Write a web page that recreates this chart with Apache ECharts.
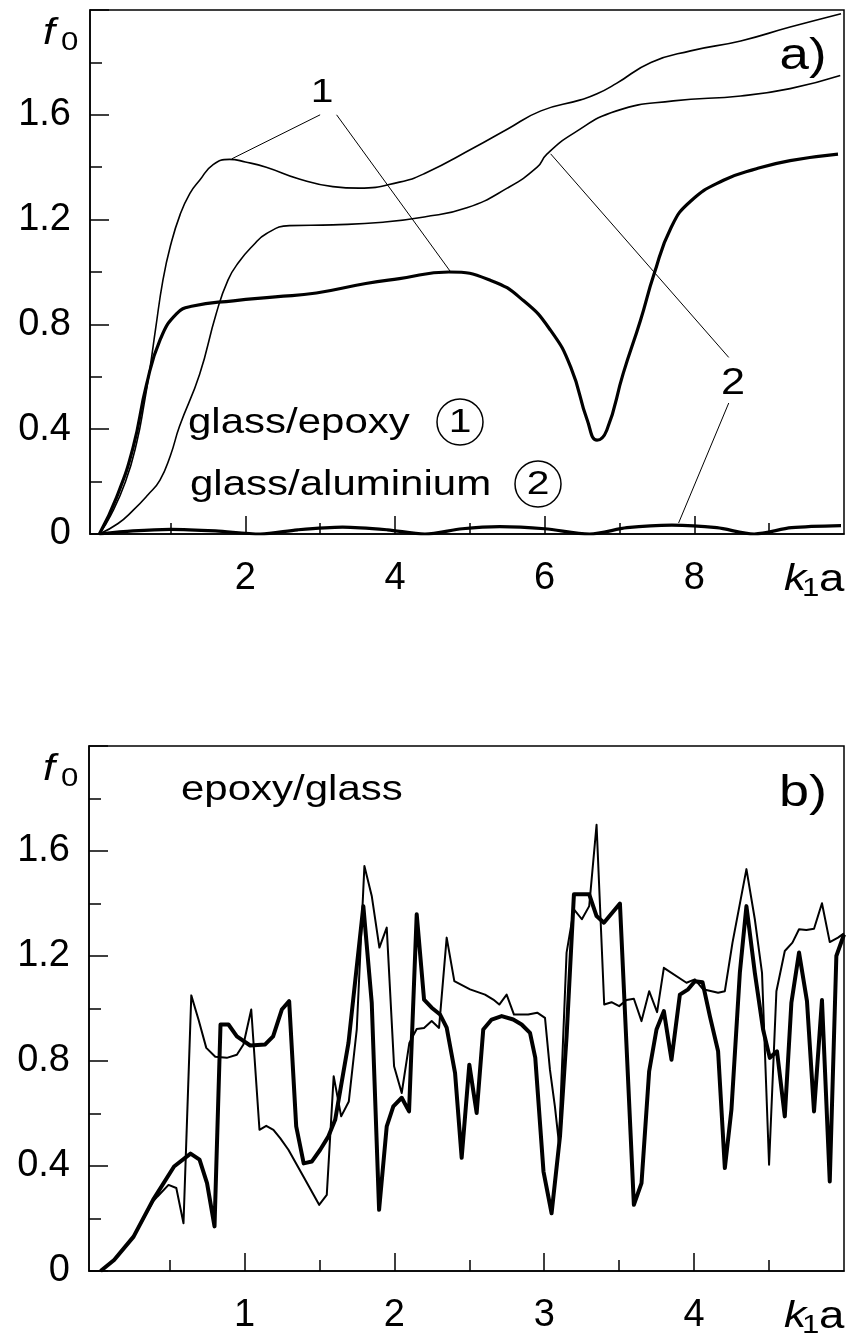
<!DOCTYPE html>
<html>
<head>
<meta charset="utf-8">
<script src="https://cdn.jsdelivr.net/npm/echarts@6/dist/echarts.min.js"></script>
<style>
html, body { margin: 0; padding: 0; background: #fff; }
#main { width: 850px; height: 1340px; }
</style>
</head>
<body>
<div id="main"></div>
<script>
// panel a) : glass/epoxy (1) and glass/aluminium (2)
var epoxyThin = [[0.05,0],[0.2,0.07],[0.4,0.2],[0.55,0.35],[0.65,0.5],[0.73,0.64],[0.8,0.78],[0.9,0.97],[1.0,1.1],[1.13,1.22],[1.26,1.3],[1.39,1.35],[1.57,1.41],[1.79,1.43],[2.0,1.42],[2.28,1.4],[2.72,1.355],[3.17,1.326],[3.52,1.32],[4.06,1.343],[4.39,1.375],[5.06,1.475],[5.5,1.545],[5.95,1.615],[6.48,1.657],[6.7,1.68],[6.96,1.72],[7.42,1.8],[7.95,1.844],[8.62,1.882],[9.28,1.935],[9.96,1.986]];
var epoxyThick = [[0.05,0],[0.28,0.14],[0.5,0.33],[0.68,0.57],[0.86,0.74],[1.08,0.84],[1.3,0.87],[1.84,0.89],[2.4,0.905],[2.95,0.92],[3.61,0.956],[4.06,0.975],[4.72,1.0],[5.28,0.968],[5.72,0.89],[6.08,0.777],[6.35,0.636],[6.57,0.434],[6.7,0.358],[6.83,0.396],[7.05,0.613],[7.28,0.815],[7.46,0.99],[7.69,1.17],[7.95,1.27],[8.39,1.35],[8.83,1.394],[9.28,1.425],[9.92,1.45]];
var alumThin = [[0.05,0],[0.3,0.04],[0.5,0.09],[0.7,0.15],[0.86,0.206],[1.0,0.3],[1.12,0.41],[1.39,0.61],[1.61,0.84],[1.77,0.97],[1.92,1.04],[2.1,1.1],[2.28,1.146],[2.59,1.177],[3.17,1.18],[3.84,1.19],[4.39,1.21],[4.96,1.245],[5.5,1.32],[5.9,1.4],[6.03,1.45],[6.39,1.53],[6.96,1.615],[7.72,1.653],[8.62,1.672],[9.28,1.7],[9.95,1.75]];
var alumThick = [[0.05,0],[0.5,0.012],[1.0,0.018],[1.6,0.012],[2.2,0],[2.7,0.016],[3.3,0.026],[3.9,0.016],[4.4,0],[4.9,0.02],[5.4,0.028],[6.0,0.02],[6.6,0],[7.1,0.024],[7.7,0.034],[8.3,0.024],[8.8,0],[9.3,0.024],[9.96,0.032]];

// leader lines from the labels "1" and "2" to the curves
var leaderLines = [
  [[3.0, 1.6], [1.82, 1.432]],
  [[3.22, 1.6], [4.75, 0.998]],
  [[8.46, 0.674], [6.08, 1.451]],
  [[8.46, 0.5], [7.79, 0.042]]
];

// panel b) : epoxy/glass
var bThick = [[0.04,0],[0.13,0.042],[0.26,0.131],[0.39,0.271],[0.53,0.398],[0.64,0.447],[0.7,0.424],[0.75,0.335],[0.8,0.17],[0.84,0.939],[0.893,0.939],[0.949,0.894],[1.038,0.859],[1.138,0.863],[1.191,0.894],[1.249,0.996],[1.298,1.028],[1.345,0.551],[1.395,0.41],[1.449,0.417],[1.505,0.462],[1.56,0.513],[1.605,0.576],[1.694,0.87],[1.793,1.39],[1.849,1.022],[1.898,0.233],[1.949,0.551],[1.993,0.627],[2.049,0.66],[2.098,0.608],[2.149,1.359],[2.198,1.034],[2.249,1.003],[2.305,0.977],[2.349,0.927],[2.405,0.754],[2.449,0.431],[2.5,0.786],[2.549,0.602],[2.593,0.92],[2.649,0.958],[2.716,0.971],[2.793,0.958],[2.849,0.939],[2.905,0.907],[2.94,0.813],[2.995,0.379],[3.049,0.22],[3.105,0.513],[3.149,0.894],[3.198,1.435],[3.3,1.435],[3.349,1.352],[3.398,1.327],[3.505,1.4],[3.598,0.252],[3.649,0.335],[3.7,0.761],[3.749,0.92],[3.798,0.99],[3.849,0.805],[3.905,1.053],[3.96,1.073],[4.005,1.104],[4.056,1.1],[4.105,0.971],[4.16,0.837],[4.205,0.392],[4.249,0.615],[4.305,1.136],[4.349,1.39],[4.405,1.136],[4.46,0.92],[4.505,0.812],[4.553,0.837],[4.605,0.589],[4.649,1.022],[4.7,1.213],[4.753,1.028],[4.8,0.608],[4.853,1.032],[4.905,0.341],[4.949,1.2],[5.0,1.282]];
var bThin = [[0.04,0],[0.13,0.042],[0.26,0.131],[0.39,0.265],[0.42,0.284],[0.493,0.328],[0.545,0.316],[0.593,0.182],[0.645,1.05],[0.693,0.958],[0.745,0.85],[0.805,0.816],[0.882,0.812],[0.949,0.824],[0.993,0.863],[1.045,0.996],[1.1,0.538],[1.145,0.553],[1.193,0.538],[1.238,0.506],[1.293,0.462],[1.393,0.36],[1.498,0.252],[1.549,0.29],[1.595,0.742],[1.645,0.589],[1.696,0.646],[1.749,0.92],[1.8,1.543],[1.849,1.429],[1.9,1.232],[1.949,1.308],[1.998,0.78],[2.049,0.678],[2.1,0.869],[2.149,0.922],[2.198,0.926],[2.249,0.952],[2.298,0.926],[2.349,1.27],[2.4,1.104],[2.505,1.073],[2.605,1.053],[2.66,1.034],[2.7,1.015],[2.749,1.053],[2.798,0.977],[2.893,0.977],[2.953,0.984],[3.005,0.964],[3.038,0.767],[3.071,0.627],[3.098,0.487],[3.149,1.213],[3.198,1.378],[3.251,1.34],[3.3,1.39],[3.349,1.7],[3.4,1.015],[3.449,1.024],[3.5,1.009],[3.549,1.032],[3.598,1.037],[3.649,0.952],[3.7,1.066],[3.753,0.986],[3.798,1.155],[3.949,1.098],[4.005,1.111],[4.06,1.073],[4.16,1.06],[4.205,1.066],[4.256,1.251],[4.349,1.531],[4.405,1.34],[4.453,1.136],[4.5,0.405],[4.549,1.066],[4.605,1.219],[4.656,1.251],[4.7,1.302],[4.749,1.299],[4.8,1.304],[4.853,1.401],[4.905,1.253],[4.96,1.27],[5.0,1.286]];

// ticks
var aTicksMajor = [2, 4, 6, 8];
var aTicksMinor = [1, 3, 5, 7, 9];
var bTicksMajor = [1, 2, 3, 4];
var bTicksMinor = [0.5, 1.5, 2.5, 3.5, 4.5];

var FONT = "'Liberation Sans', Arial, Helvetica, sans-serif";
var SX = 1.2; // lettering in the original is a little wider than Arial
var black = '#000';

var myChart = echarts.init(document.getElementById('main'));

function xAxes(grid, min, max, major, minor) {
  return [{
    gridIndex: grid, type: 'value', min: min, max: max, position: 'bottom',
    axisLine: { show: true, onZero: false, lineStyle: { color: black, width: 1.5 } },
    axisTick: { show: true, inside: true, length: 18, customValues: major, lineStyle: { color: black, width: 1.5 } },
    axisLabel: { show: true, customValues: major, margin: 26, color: black, fontSize: 38, fontFamily: FONT },
    splitLine: { show: false }
  }, {
    gridIndex: grid, type: 'value', min: min, max: max, position: 'bottom',
    axisLine: { show: false },
    axisTick: { show: true, inside: true, length: 11, customValues: minor, lineStyle: { color: black, width: 1.5 } },
    axisLabel: { show: false },
    splitLine: { show: false }
  }];
}

function yAxis(grid) {
  return {
    gridIndex: grid, type: 'value', min: 0, max: 2, interval: 0.4,
    axisLine: { show: true, onZero: false, lineStyle: { color: black, width: 1.5 } },
    axisTick: { show: true, inside: true, length: 19, lineStyle: { color: black, width: 1.5 } },
    minorTick: { show: true, splitNumber: 2, length: 12, lineStyle: { color: black, width: 1.5 } },
    axisLabel: {
      margin: 19, color: black, fontSize: 38, fontFamily: FONT,
      formatter: function (v) {
        if (v > 1.9) return '';
        return v === 0 ? '0' : v.toFixed(1);
      }
    },
    splitLine: { show: false }
  };
}

function curve(name, data, xi, yi, width, smooth) {
  return {
    name: name, type: 'line', data: data,
    xAxisIndex: xi, yAxisIndex: yi,
    smooth: smooth, showSymbol: false, symbol: 'none',
    lineStyle: { color: black, width: width, join: 'round' },
    silent: true
  };
}

function txt(s, x, y, size, align, italic) {
  return {
    type: 'text', x: x, y: y, scaleX: SX, z: 10, silent: true,
    style: {
      text: s, fill: black,
      font: (italic ? 'italic ' : '') + size + 'px ' + FONT,
      textAlign: align || 'center', textVerticalAlign: 'middle'
    }
  };
}

function ring(cx, cy) {
  return {
    type: 'circle', z: 10, silent: true,
    shape: { cx: cx, cy: cy, r: 23 },
    style: { fill: 'none', stroke: black, lineWidth: 1.5 }
  };
}

var epoxySeries = curve('glass/epoxy thin', epoxyThin, 0, 0, 1.6, true);
epoxySeries.markLine = {
  silent: true, symbol: ['none', 'none'], animation: false,
  label: { show: false },
  lineStyle: { color: black, width: 1, type: 'solid' },
  emphasis: { disabled: true },
  data: leaderLines.map(function (l) {
    return [{ coord: l[0] }, { coord: l[1] }];
  })
};

var option = {
  animation: false,
  backgroundColor: '#fff',
  grid: [
    { left: 90, right: 6, top: 10, height: 524, show: true, borderColor: black, borderWidth: 1.5 },
    { left: 89, right: 6, top: 746, height: 525, show: true, borderColor: black, borderWidth: 1.5 }
  ],
  xAxis: xAxes(0, -0.075, 10, aTicksMajor, aTicksMinor).concat(xAxes(1, -0.0375, 5, bTicksMajor, bTicksMinor)),
  yAxis: [yAxis(0), yAxis(1)],
  series: [
    epoxySeries,
    curve('glass/epoxy thick', epoxyThick, 0, 0, 3.2, true),
    curve('glass/aluminium thin', alumThin, 0, 0, 1.6, true),
    curve('glass/aluminium thick', alumThick, 0, 0, 3.2, 0.3),
    curve('epoxy/glass thin', bThin, 2, 1, 2, false),
    curve('epoxy/glass thick', bThick, 2, 1, 4, false)
  ],
  graphic: [
    // axis names
    txt('f', 43, 34, 36, 'left', true), txt('0', 61, 43, 26, 'left'),
    txt('f', 43, 770, 36, 'left', true), txt('0', 61, 779, 26, 'left'),
    txt('k', 784, 580, 37, 'left', true), txt('1', 802, 589, 26, 'left'), txt('a', 819, 581, 38, 'left'),
    txt('k', 784, 1317, 37, 'left', true), txt('1', 802, 1326, 26, 'left'), txt('a', 819, 1318, 38, 'left'),
    // panel tags
    txt('a)', 803, 57, 44), txt('b)', 803, 794, 45),
    // curve labels
    txt('1', 322, 93, 34), txt('2', 733, 384, 36),
    // material legend
    txt('glass/epoxy', 188, 423, 35, 'left'),
    txt('glass/aluminium', 190, 485, 35, 'left'),
    ring(460, 422), txt('1', 460, 423, 34),
    ring(538, 484), txt('2', 538, 485, 34),
    txt('epoxy/glass', 181, 790, 35, 'left')
  ]
};

myChart.setOption(option);
</script>
</body>
</html>
